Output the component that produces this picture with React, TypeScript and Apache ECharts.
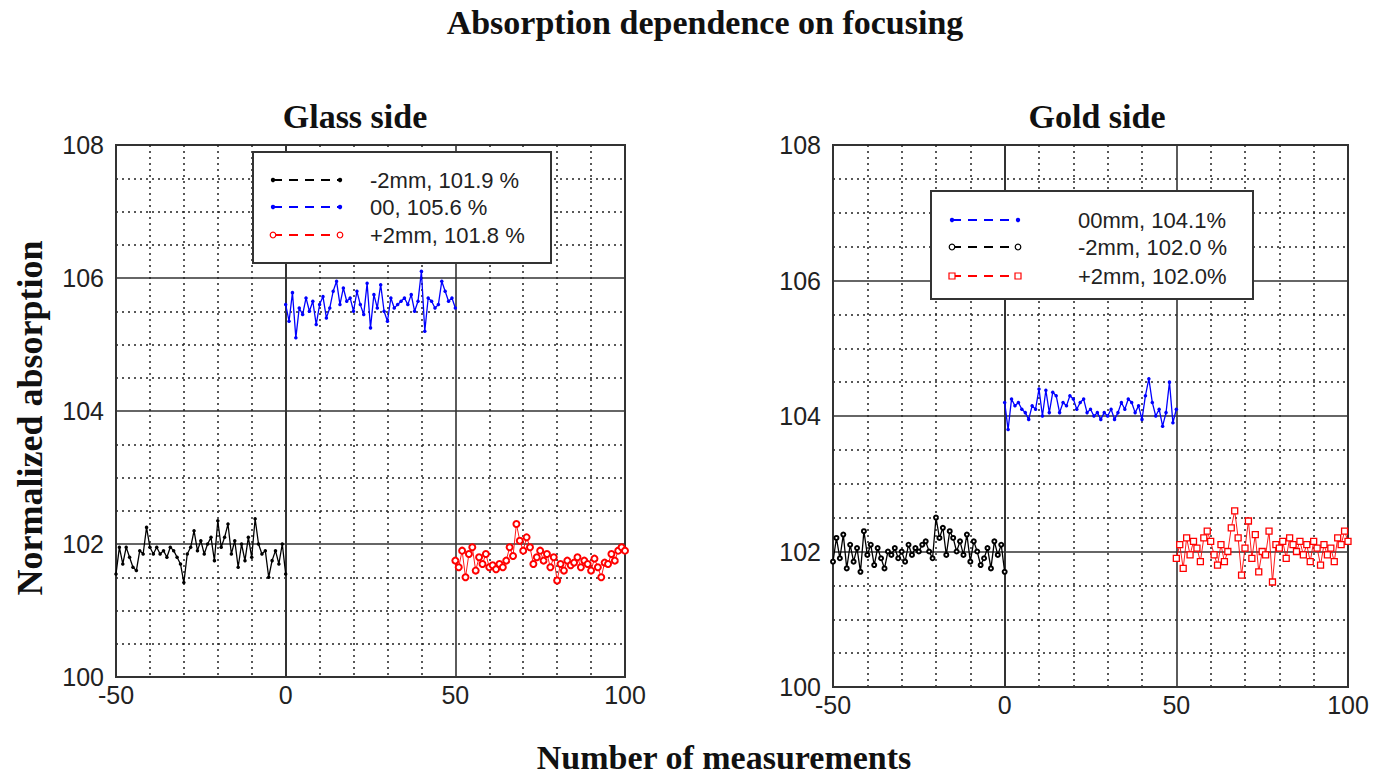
import React, { useEffect, useRef } from "react";
import * as echarts from "echarts";

// ---------- data ----------
const xTicks = [-50, 0, 50, 100];
const yTicks = [100, 102, 104, 106, 108];

// Glass side
const glassMinus2Start = -50;
const glassMinus2 = [
  101.55, 101.95, 101.7, 101.95, 101.8, 101.65, 101.6, 101.9, 101.85, 102.25,
  101.95, 101.85, 101.95, 101.85, 101.9, 101.8, 101.95, 101.9, 101.8, 101.7,
  101.42, 101.85, 101.95, 102.2, 101.9, 102.05, 101.85, 102.0, 102.1, 101.75,
  102.35, 101.95, 102.1, 102.3, 101.85, 102.05, 101.65, 102.0, 101.75, 102.1,
  101.8, 102.38, 102.0, 101.85, 101.9, 101.5, 101.75, 101.9, 101.7, 102.0,
  101.55,
];
const glassZeroStart = 0;
const glassZero = [
  105.6, 105.35, 105.78, 105.1, 105.55, 105.45, 105.7, 105.5, 105.65, 105.3,
  105.6, 105.72, 105.4, 105.55, 105.8, 105.95, 105.6, 105.85, 105.65, 105.7,
  105.5, 105.8, 105.6, 105.45, 105.92, 105.25, 105.75, 105.55, 105.9, 105.5,
  105.35, 105.7, 105.55, 105.6, 105.65, 105.7, 105.6, 105.75, 105.5, 105.65,
  106.1, 105.2, 105.7, 105.65, 105.55, 105.6, 105.95, 105.8, 105.65, 105.7,
  105.55,
];
const glassPlus2Start = 50;
const glassPlus2 = [
  101.75, 101.65, 101.9, 101.5, 101.85, 101.95, 101.6, 101.8, 101.7, 101.85,
  101.65, 101.68, 101.62, 101.7, 101.65, 101.75, 101.95, 101.82, 102.3, 102.05,
  101.9, 102.1, 101.95, 101.7, 101.8, 101.9, 101.75, 101.85, 101.65, 101.8,
  101.45, 101.7, 101.6, 101.75, 101.68, 101.72, 101.8, 101.65, 101.75, 101.7,
  101.6, 101.78, 101.65, 101.5, 101.72, 101.7, 101.85, 101.75, 101.9, 101.95,
  101.9,
];

// Gold side
const goldMinus2Start = -50;
const goldMinus2 = [
  101.85, 102.2, 101.9, 102.25, 101.75, 102.1, 101.85, 102.05, 101.7, 102.3,
  101.95, 102.1, 101.8, 102.05, 101.9, 101.75, 102.0, 101.95, 102.05, 101.9,
  102.0, 101.85, 102.1, 101.95, 102.05, 102.0, 102.1, 102.15, 102.0, 101.9,
  102.5, 102.2, 102.35, 101.95, 102.3, 102.2, 102.0, 102.15, 101.95, 102.25,
  101.85, 102.15, 102.0, 101.8, 101.9, 102.05, 101.75, 102.15, 101.95, 102.1,
  101.7,
];
const goldZeroStart = 0;
const goldZero = [
  104.2, 103.8, 104.25, 104.15, 104.2, 104.1, 104.05, 103.95, 104.15, 104.1,
  104.4, 104.0, 104.38, 104.05, 104.35, 104.3, 104.05, 104.2, 104.15, 104.3,
  104.25, 104.1, 104.2, 104.25, 104.05, 104.1, 104.0, 104.05, 103.95, 104.05,
  104.0, 104.1, 103.95, 104.05, 104.2, 104.1, 104.25, 104.2, 104.05, 104.15,
  103.95, 104.3, 104.55, 104.2, 104.0, 104.1, 103.85, 104.05, 104.5, 103.9,
  104.1,
];
const goldPlus2Start = 50;
const goldPlus2 = [
  101.9, 102.1, 101.75, 102.2, 101.95, 102.15, 102.05, 101.85, 102.2, 102.3,
  102.15, 101.95, 101.8, 102.1, 101.85, 102.0, 102.35, 102.6, 102.2, 101.65,
  102.05, 102.45, 101.9, 102.25, 101.7, 102.0, 101.95, 102.3, 101.55, 102.1,
  102.05, 102.15, 101.9, 102.2, 102.1, 102.0, 102.15, 101.95, 102.1, 101.85,
  102.15, 102.05, 101.8, 102.1, 101.95, 102.05, 101.85, 102.2, 102.1, 102.3,
  102.15,
];

const glassLegend = ["-2mm, 101.9 %", "00, 105.6 %", "+2mm, 101.8 %"];
const goldLegend = ["00mm, 104.1%", "-2mm, 102.0 %", "+2mm, 102.0%"];

const toPairs = (start: number, vals: number[]) =>
  vals.map((v, i) => [start + i, v]);

const SANS = "'Liberation Sans', Arial, sans-serif";
const SERIF = "'Liberation Serif', 'Times New Roman', serif";

function makeAxes(gridIndex: number) {
  const xAxis = {
    gridIndex,
    type: "value",
    min: xTicks[0],
    max: xTicks[xTicks.length - 1],
    interval: 50,
    axisLine: { show: true, lineStyle: { color: "#333", width: 2 } },
    axisTick: { show: false },
    axisLabel: {
      color: "#222",
      fontFamily: SANS,
      fontSize: 25,
      margin: 5,
    },
    splitLine: { show: true, lineStyle: { color: "#333", width: 1.6 } },
    minorTick: { show: false, splitNumber: 5 },
    minorSplitLine: {
      show: true,
      lineStyle: { color: "#222", width: 1.5, type: [2, 4] },
    },
  };
  const yAxis = {
    gridIndex,
    type: "value",
    min: yTicks[0],
    max: yTicks[yTicks.length - 1],
    interval: 2,
    axisLine: { show: true, lineStyle: { color: "#333", width: 2 } },
    axisTick: { show: false },
    axisLabel: {
      color: "#222",
      fontFamily: SANS,
      fontSize: 25,
      margin: 12,
    },
    splitLine: { show: true, lineStyle: { color: "#333", width: 1.6 } },
    minorTick: { show: false, splitNumber: 4 },
    minorSplitLine: {
      show: true,
      lineStyle: { color: "#222", width: 1.5, type: [2, 4] },
    },
  };
  return { xAxis, yAxis };
}

function legendBox(
  x: number,
  y: number,
  w: number,
  h: number,
  rows: { label: string; color: string; y: number; marker: string }[],
  lineX0: number,
  lineX1: number,
  textX: number
) {
  const Z = 100;
  const children: any[] = [
    {
      type: "rect",
      z: Z,
      shape: { x, y, width: w, height: h },
      style: { fill: "#fff", stroke: "#333", lineWidth: 2 },
    },
  ];
  rows.forEach((r) => {
    children.push({
      type: "line",
      z: Z + 1,
      shape: { x1: lineX0, y1: r.y, x2: lineX1, y2: r.y },
      style: { stroke: r.color, lineWidth: 1.8, lineDash: [9, 7] },
    });
    [lineX0, lineX1].forEach((mx) => {
      if (r.marker === "dot") {
        children.push({
          type: "circle",
          z: Z + 2,
          shape: { cx: mx, cy: r.y, r: 2.2 },
          style: { fill: r.color },
        });
      } else if (r.marker === "circle") {
        children.push({
          type: "circle",
          z: Z + 2,
          shape: { cx: mx, cy: r.y, r: 2.8 },
          style: { fill: "#fff", stroke: r.color, lineWidth: 1.2 },
        });
      } else {
        children.push({
          type: "rect",
          z: Z + 2,
          shape: { x: mx - 3, y: r.y - 3, width: 6, height: 6 },
          style: { fill: "#fff", stroke: r.color, lineWidth: 1.2 },
        });
      }
    });
    children.push({
      type: "text",
      z: Z + 2,
      x: textX,
      y: r.y,
      style: {
        text: r.label,
        fill: "#222",
        font: `22px ${SANS}`,
        textAlign: "left",
        textVerticalAlign: "middle",
      },
    });
  });
  return { type: "group", z: Z, children };
}

function bigText(text: string, x: number, y: number, size: number, rotation = 0) {
  return {
    type: "text",
    x,
    y,
    rotation,
    z: 100,
    style: {
      text,
      fill: "#111",
      font: `bold ${size}px ${SERIF}`,
      textAlign: "center",
      textVerticalAlign: "middle",
    },
  };
}

export default function App() {
  const ref = useRef<HTMLDivElement>(null);

  useEffect(() => {
    if (!ref.current) return;
    const chart = echarts.init(ref.current, undefined, { renderer: "svg" });
    const a0 = makeAxes(0);
    const a1 = makeAxes(1);

    const option: any = {
      animation: false,
      backgroundColor: "#fff",
      grid: [
        {
          left: 116,
          top: 145,
          width: 509,
          height: 532,
          show: true,
          borderColor: "#333",
          borderWidth: 2,
          backgroundColor: "transparent",
        },
        {
          left: 833,
          top: 145,
          width: 515,
          height: 542,
          show: true,
          borderColor: "#333",
          borderWidth: 2,
          backgroundColor: "transparent",
        },
      ],
      xAxis: [a0.xAxis, a1.xAxis],
      yAxis: [a0.yAxis, a1.yAxis],
      series: [
        {
          name: "glass -2mm",
          type: "line",
          xAxisIndex: 0,
          yAxisIndex: 0,
          data: toPairs(glassMinus2Start, glassMinus2),
          symbol: "circle",
          symbolSize: 3.5,
          lineStyle: { color: "#000", width: 1.3 },
          itemStyle: { color: "#000" },
        },
        {
          name: "glass 00",
          type: "line",
          xAxisIndex: 0,
          yAxisIndex: 0,
          data: toPairs(glassZeroStart, glassZero),
          symbol: "circle",
          symbolSize: 3.5,
          lineStyle: { color: "#0000ff", width: 1.3 },
          itemStyle: { color: "#0000ff" },
        },
        {
          name: "glass +2mm",
          type: "line",
          xAxisIndex: 0,
          yAxisIndex: 0,
          data: toPairs(glassPlus2Start, glassPlus2),
          symbol: "emptyCircle",
          symbolSize: 6,
          lineStyle: { color: "#ff0000", width: 0.9 },
          itemStyle: { color: "#ff0000", borderWidth: 1.3 },
        },
        {
          name: "gold 00mm",
          type: "line",
          xAxisIndex: 1,
          yAxisIndex: 1,
          data: toPairs(goldZeroStart, goldZero),
          symbol: "circle",
          symbolSize: 3.5,
          lineStyle: { color: "#0000ff", width: 1.3 },
          itemStyle: { color: "#0000ff" },
        },
        {
          name: "gold -2mm",
          type: "line",
          xAxisIndex: 1,
          yAxisIndex: 1,
          data: toPairs(goldMinus2Start, goldMinus2),
          symbol: "emptyCircle",
          symbolSize: 4,
          lineStyle: { color: "#000", width: 1.3 },
          itemStyle: { color: "#000", borderWidth: 1.2 },
        },
        {
          name: "gold +2mm",
          type: "line",
          xAxisIndex: 1,
          yAxisIndex: 1,
          data: toPairs(goldPlus2Start, goldPlus2),
          symbol: "rect",
          symbolSize: 6,
          lineStyle: { color: "#ff0000", width: 0.9 },
          itemStyle: { color: "#fff", borderColor: "#ff0000", borderWidth: 1.3 },
        },
      ],
      graphic: [
        bigText("Absorption dependence on focusing", 705, 22, 34),
        bigText("Glass side", 355, 116, 34),
        bigText("Gold side", 1097, 116, 34),
        bigText("Normalized absorption", 30, 418, 36, Math.PI / 2),
        bigText("Number of measurements", 724, 757, 34),
        legendBox(
          253,
          152,
          298,
          111,
          [
            { label: glassLegend[0], color: "#000", y: 180, marker: "dot" },
            { label: glassLegend[1], color: "#0000ff", y: 207, marker: "dot" },
            { label: glassLegend[2], color: "#ff0000", y: 235, marker: "circle" },
          ],
          273,
          340,
          370
        ),
        legendBox(
          931,
          191,
          322,
          108,
          [
            { label: goldLegend[0], color: "#0000ff", y: 220, marker: "dot" },
            { label: goldLegend[1], color: "#000", y: 247, marker: "circle" },
            { label: goldLegend[2], color: "#ff0000", y: 276, marker: "square" },
          ],
          952,
          1018,
          1078
        ),
      ],
    };
    chart.setOption(option);
    return () => chart.dispose();
  }, []);

  return (
    <div
      ref={ref}
      style={{
        position: "fixed",
        left: 0,
        top: 0,
        width: 1387,
        height: 775,
        background: "#fff",
      }}
    />
  );
}
